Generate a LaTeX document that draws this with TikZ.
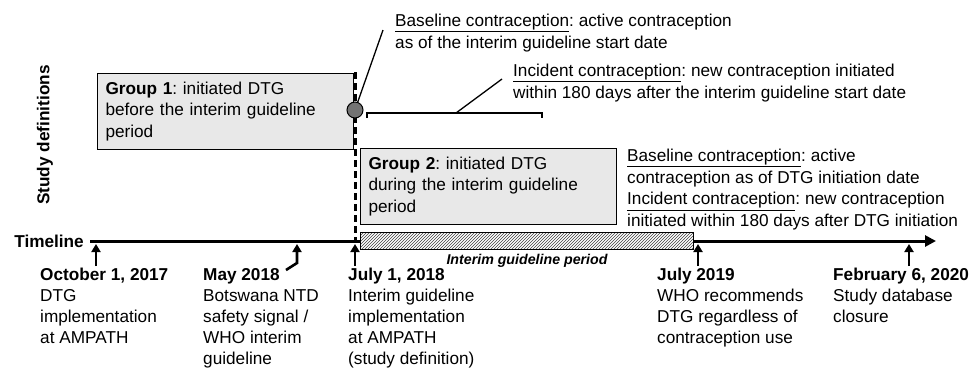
\documentclass[tikz,border=0pt]{standalone}
\usepackage{fontspec}
\setmainfont{Liberation Sans}
\usetikzlibrary{positioning,arrows.meta,patterns}
\frenchspacing
\newcommand{\txtsize}{\fontsize{17.2}{21.6}\selectfont}
\newcommand{\evsize}{\fontsize{17.2}{21}\selectfont}
\newcommand{\barsize}{\fontsize{14.2}{16}\selectfont}

\begin{document}
\begin{tikzpicture}[x=1pt,y=-1pt,
  lbl/.style={font=\txtsize,align=left,inner sep=0pt,anchor=north west},
  evlbl/.style={lbl,font=\evsize},
  grpbox/.style={draw,line width=1pt,fill=black!9,font=\txtsize,align=left,
    text width=240pt,inner xsep=8pt,inner ysep=0pt,minimum height=76pt,anchor=north west},
  uparrow/.style={-{Triangle[length=8pt,width=9pt]},line width=2.6pt},
  pointer/.style={line width=1.3pt}]
\useasboundingbox (0,0) rectangle (974,368);
% side labels
\node[font=\txtsize\bfseries,rotate=90] (studydef) at (45,135) {Study definitions};
\node[font=\txtsize\bfseries,anchor=east,inner sep=0pt] (tl) at (84,241) {Timeline};
% timeline
\coordinate (tend) at (936,241);
\draw[-{Triangle[length=11pt,width=11pt]},line width=3pt] ([xshift=6pt]tl.east) -- (tend);
% interim guideline period
\node[draw,line width=1pt,preaction={fill=white},pattern=north east lines,pattern color=black!75,
  minimum width=333pt,minimum height=17pt,inner sep=0pt,anchor=west] (bar) at (360,241) {};
\node[font=\barsize\bfseries\itshape,inner sep=0pt,below=4pt of bar] (period) {Interim guideline period};
% groups
\node[grpbox] (grp1) at (97,73) {\textbf{Group 1}: initiated DTG\\before the interim guideline\\period};
\node[grpbox] (grp2) at (360,148) {\textbf{Group 2}: initiated DTG\\during the interim guideline\\period};
% interim guideline start (dashed)
\coordinate (dtop) at (355,72);
\coordinate (dbot) at (355,241);
\draw[line width=3pt,dash pattern=on 7pt off 4pt] (dtop) -- (dbot);
\node[circle,draw,line width=1pt,fill=black!55,minimum size=16pt,inner sep=0pt] (dot) at (355,110) {};
% baseline contraception
\node[lbl] (basetxt) at (395,14) {\underline{Baseline contraception}: active contraception\\as of the interim guideline start date};
\coordinate (basept) at (383,30);
\draw[pointer] (dot.71) -- (basept);
% incident contraception (180 days)
\coordinate (brL) at (367,113);
\coordinate (brR) at (542,113);
\draw[line width=2.6pt] ([yshift=-5pt]brL) -- (brL) -- (brR) -- ([yshift=-5pt]brR);
\node[lbl] (inctxt) at (513,64) {\underline{Incident contraception}: new contraception initiated\\within 180 days after the interim guideline start date};
\coordinate (brmid) at (456,113);
\coordinate (incpt) at (502,79);
\draw[pointer] (brmid) -- (incpt);
% group 2 definitions
\node[lbl] (g2txt) at (627,149) {\underline{Baseline contraception}: active\\contraception as of DTG initiation date\\\underline{Incident contraception}: new contraception\\initiated within 180 days after DTG initiation};
% events
\foreach \n/\x in {oct/96,jul18/355,jul19/698,feb/909}{
  \coordinate (\n top) at (\x,244);
  \coordinate (\n bot) at (\x,266);
  \draw[uparrow] (\n bot) -- (\n top);
}
\coordinate (maytop) at (297,244);
\coordinate (maybend) at (297,263);
\coordinate (maybot) at (286,270);
\draw[uparrow] (maybot) -- (maybend) -- (maytop);
\node[evlbl] (oct) at (40,268) {\textbf{October 1, 2017}\\DTG\\implementation\\at AMPATH};
\node[evlbl] (may) at (203,268) {\textbf{May 2018}\\Botswana NTD\\safety signal /\\WHO interim\\guideline};
\node[evlbl] (jul18) at (348,268) {\textbf{July 1, 2018}\\Interim guideline\\implementation\\at AMPATH\\(study definition)};
\node[evlbl] (jul19) at (657,268) {\textbf{July 2019}\\WHO recommends\\DTG regardless of\\contraception use};
\node[evlbl] (feb) at (833,268) {\textbf{February 6, 2020}\\Study database\\closure};
\end{tikzpicture}
\end{document}
